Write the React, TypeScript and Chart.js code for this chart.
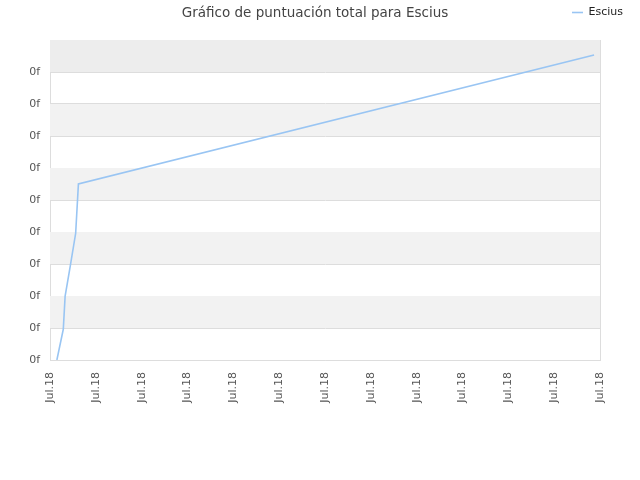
import React, { useEffect, useRef } from "react";
import { Chart, registerables } from "chart.js";

Chart.register(...registerables);

const chartTitle = "Gráfico de puntuación total para Escius";
const seriesName = "Escius";
const xValues = [0.15, 0.29, 0.33, 0.44, 0.56, 0.62, 11.87];
const yValues = [0, 0.96, 2.0, 2.92, 3.96, 5.5, 9.53];
const xTickLabels = Array.from({ length: 13 }, () => "Jul.18");
const yTickLabels = Array.from({ length: 10 }, () => "0f");

const bandsPlugin = {
  id: "bands",
  beforeDatasetsDraw(chart: any) {
    const { ctx, chartArea } = chart;
    const y = chart.scales.y;
    ctx.save();
    for (let v = 1; v < 10; v += 2) {
      const top = y.getPixelForValue(v + 1);
      const bottom = y.getPixelForValue(v);
      ctx.fillStyle = v === 9 ? "#ededed" : "#f2f2f2";
      ctx.fillRect(chartArea.left, top, chartArea.right - chartArea.left, bottom - top);
    }
    ctx.restore();
  },
};

export default function App() {
  const ref = useRef<HTMLCanvasElement>(null);
  useEffect(() => {
    document.body.style.margin = "0";
    Chart.defaults.font.family = "'DejaVu Sans', sans-serif";
    const chart = new Chart(ref.current!, {
      type: "line",
      data: {
        datasets: [
          {
            label: seriesName,
            data: xValues.map((x, i) => ({ x, y: yValues[i] })),
            borderColor: "#99c5f3",
            backgroundColor: "#99c5f3",
            borderWidth: 1.6,
            pointRadius: 0,
            tension: 0,
            fill: false,
          },
        ],
      },
      options: {
        animation: false,
        responsive: false,
        layout: { padding: { left: 0, right: 10, top: 0, bottom: 0 } },
        plugins: {
          legend: {
            position: "top",
            align: "end",
            labels: {
              usePointStyle: true,
              pointStyle: "line",
              pointStyleWidth: 11,
              padding: 7,
              color: "#222",
              font: { size: 11 },
            },
          },
          title: {
            display: true,
            text: chartTitle,
            weight: 500,
            color: "#444",
            font: { size: 13.5, weight: "normal" },
            padding: { top: -23.1, bottom: 18.9 },
          } as any,
          tooltip: { enabled: false },
        },
        scales: {
          x: {
            type: "linear",
            min: 0,
            max: 12,
            afterFit: (s: any) => {
              s.height = 120;
            },
            afterBuildTicks: (s: any) => {
              s.ticks = xTickLabels.map((_, i) => ({ value: i }));
            },
            ticks: {
              autoSkip: false,
              minRotation: 90,
              maxRotation: 90,
              padding: 12,
              color: "#555",
              font: { size: 11 },
              callback: (_v: any, i: number) => xTickLabels[i],
            },
            grid: {
              drawTicks: false,
              color: (c: any) => (c.index === xTickLabels.length - 1 ? "#dddddd" : "rgba(0,0,0,0)"),
            },
            border: { display: true, color: "#dddddd" },
          },
          y: {
            min: 0,
            max: 10,
            afterFit: (s: any) => {
              s.width = 50;
            },
            ticks: {
              stepSize: 1,
              padding: 10,
              color: "#555",
              font: { size: 11 },
              callback: (_v: any, i: number) => yTickLabels[i] ?? "",
            },
            grid: { drawTicks: false, color: "#dddddd" },
            border: { display: true, color: "#dddddd" },
          },
          yR: {
            position: "right",
            display: true,
            afterFit: (s: any) => {
              s.width = 30;
            },
            ticks: { display: false },
            grid: { display: false },
            border: { display: false },
          },
        },
      },
      plugins: [bandsPlugin],
    });
    return () => chart.destroy();
  }, []);
  return (
    <div style={{ width: 640, height: 480 }}>
      <canvas ref={ref} width={640} height={480} />
    </div>
  );
}
